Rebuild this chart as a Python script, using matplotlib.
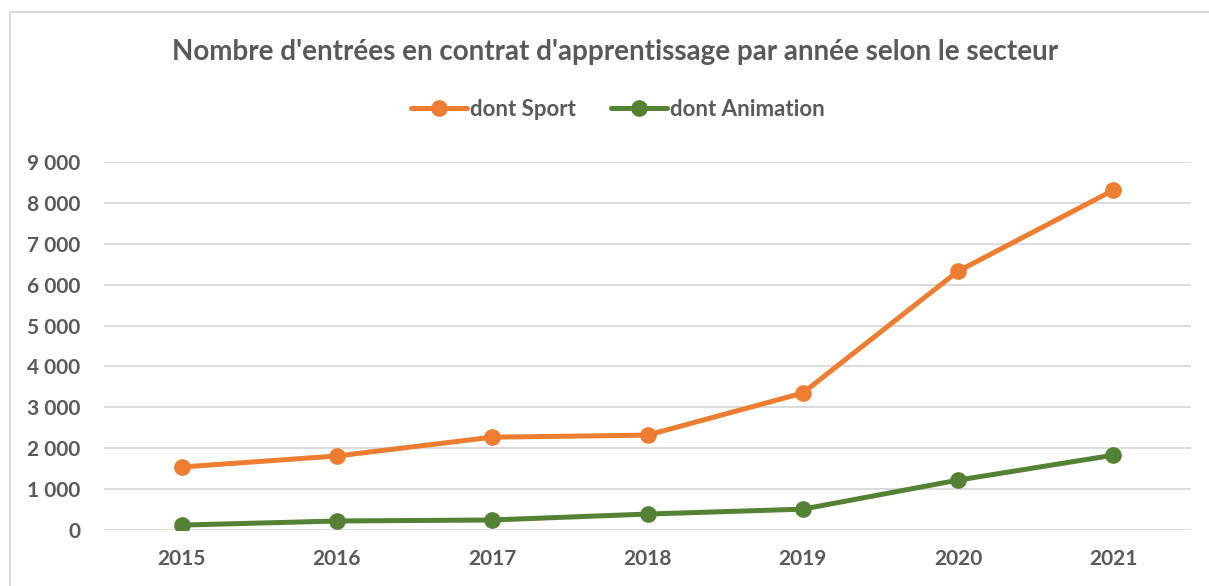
import matplotlib
matplotlib.use("Agg")
import matplotlib.pyplot as plt
from matplotlib.lines import Line2D
from matplotlib.patches import Rectangle
from matplotlib.ticker import FuncFormatter

years = ["2015", "2016", "2017", "2018", "2019", "2020", "2021"]
sport = [1540, 1810, 2270, 2320, 3350, 6330, 8310]
animation = [120, 220, 245, 390, 510, 1220, 1830]
title = "Nombre d'entrées en contrat d'apprentissage par année selon le secteur"
series_labels = ["dont Sport", "dont Animation"]

W, H = 1209, 586
fig = plt.figure(figsize=(W / 100, H / 100), dpi=100)
plt.rcParams['font.family'] = ['Lato', 'DejaVu Sans']
txt = "#595959"

# border
fig.patches.append(Rectangle((10 / W, -0.1), 1.2, 1 - 12 / H + 0.1, transform=fig.transFigure,
                             fill=False, edgecolor="#d9d9d9", linewidth=1.5))

ax = fig.add_axes([104 / W, (H - 530) / H, (1191 - 104) / W, (530 - 162) / H])
x = list(range(len(years)))
orange = "#ED7D31"
green = "#548235"
lw, ms = 3.6, 11
ax.plot(x, sport, color=orange, lw=lw, marker="o", ms=ms, solid_capstyle="round", zorder=3)
ax.plot(x, animation, color=green, lw=lw, marker="o", ms=ms, solid_capstyle="round", zorder=3)

ax.set_xlim(-0.5, len(years) - 0.5)
ax.set_ylim(0, 9000)
ax.set_yticks(range(0, 9001, 1000))
ax.yaxis.set_major_formatter(FuncFormatter(lambda v, p: f"{int(v):,}".replace(",", " ")))
ax.set_xticks(x)
ax.set_xticklabels(years)
ax.grid(axis="y", color="#d9d9d9", lw=1.3)
ax.set_axisbelow(True)
for s in ax.spines.values():
    s.set_visible(False)
ax.tick_params(length=0, labelsize=15, labelcolor=txt)
ax.tick_params(axis="y", pad=17)
ax.tick_params(axis="x", pad=14)
for lab in ax.get_xticklabels() + ax.get_yticklabels():
    lab.set_fontweight("bold")

fig.text(615 / W, 1 - 52 / H, title, ha="center", va="center", fontsize=20,
         fontweight="bold", color=txt)

handles = [Line2D([], [], color=orange, lw=lw, marker="o", ms=ms, solid_capstyle="round"),
           Line2D([], [], color=green, lw=lw, marker="o", ms=ms, solid_capstyle="round")]
leg = fig.legend(handles, series_labels, loc="center", bbox_to_anchor=(618 / W, 1 - 109 / H),
                 ncol=2, frameon=False, handlelength=2.5, handletextpad=0.15, columnspacing=1.6,
                 prop={"weight": "bold", "size": 16})
for t in leg.get_texts():
    t.set_color(txt)

fig.savefig("out.png", dpi=100)
